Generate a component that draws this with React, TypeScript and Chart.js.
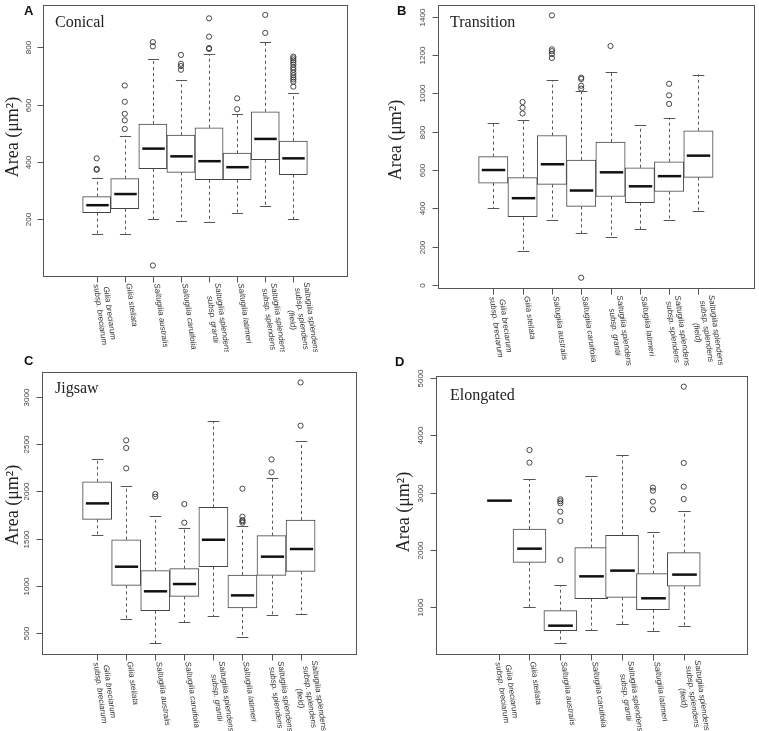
import React, { useEffect, useRef } from "react";
import { Chart, registerables } from "chart.js";

Chart.register(...registerables);

// ---------- categories ----------
const labels8: string[][] = [
  ["Gilia breciarum", "subsp. breciarum"],
  ["Gilia stellata"],
  ["Saltugilia australis"],
  ["Saltugilia caruifolia"],
  ["Saltugilia splendens", "subsp. grantii"],
  ["Saltugilia latimeri"],
  ["Saltugilia splendens", "subsp. splendens"],
  ["Saltugilia splendens", "subsp. splendens", "(field)"],
];
const labels7: string[][] = [
  ["Gilia breciarum", "subsp. breciarum"],
  ["Gilia stellata"],
  ["Saltugilia australis"],
  ["Saltugilia caruifolia"],
  ["Saltugilia splendens", "subsp. grantii"],
  ["Saltugilia latimeri"],
  ["Saltugilia splendens", "subsp. splendens", "(field)"],
];

// ---------- A: Conical ----------
const conicalLow = [148, 148, 199, 194, 189, 222, 244, 200];
const conicalQ1 = [222, 236, 376, 363, 337, 337, 407, 355];
const conicalMedian = [248, 287, 446, 419, 402, 381, 480, 412];
const conicalQ3 = [278, 341, 532, 493, 519, 430, 575, 472];
const conicalHigh = [344, 491, 758, 685, 777, 568, 818, 640];
const conicalOutliers = [
  [372, 375, 412],
  [515, 545, 568, 610, 667],
  [37, 804, 819],
  [722, 735, 743, 774],
  [795, 798, 838, 902],
  [584, 622],
  [851, 914],
  [663, 680, 688, 695, 703, 712, 722, 730, 740, 748, 755, 762, 768],
];
const conicalTicks = [200, 400, 600, 800];

// ---------- B: Transition ----------
const transitionLow = [402, 179, 337, 270, 248, 290, 337, 385];
const transitionQ1 = [532, 356, 525, 410, 462, 430, 488, 562];
const transitionMedian = [600, 453, 630, 493, 588, 515, 568, 675];
const transitionQ3 = [670, 560, 780, 652, 746, 612, 643, 805];
const transitionHigh = [848, 860, 1070, 1015, 1112, 833, 873, 1098];
const transitionOutliers = [
  [],
  [895, 925, 955],
  [1185, 1205, 1220, 1230, 1407],
  [38, 1025, 1040, 1075, 1082],
  [1247],
  [],
  [945, 990, 1050],
  [],
];
const transitionTicks = [0, 200, 400, 600, 800, 1000, 1200, 1400];

// ---------- C: Jigsaw ----------
const jigsawLow = [1539, 648, 394, 616, 680, 465, 694, 701];
const jigsawQ1 = [1704, 1007, 739, 891, 1204, 768, 1113, 1155];
const jigsawMedian = [1873, 1204, 944, 1021, 1489, 901, 1310, 1391];
const jigsawQ3 = [2102, 1489, 1162, 1183, 1831, 1116, 1532, 1697];
const jigsawHigh = [2341, 2056, 1736, 1616, 2739, 1634, 2137, 2528];
const jigsawOutliers = [
  [],
  [2243, 2458, 2539],
  [1944, 1972],
  [1669, 1866],
  [],
  [1669, 1685, 1697, 1732, 2028],
  [2201, 2338],
  [2694, 3151],
];
const jigsawTicks = [500, 1000, 1500, 2000, 2500, 3000];

// ---------- D: Elongated ----------
const elongatedLow = [2860, 1000, 364, 592, 703, 586, 668];
const elongatedQ1 = [2860, 1781, 586, 1146, 1169, 953, 1362];
const elongatedMedian = [2860, 2020, 673, 1536, 1636, 1152, 1566];
const elongatedQ3 = [2860, 2364, 936, 2038, 2254, 1583, 1950];
const elongatedHigh = [2860, 3233, 1385, 3297, 3653, 2306, 2685];
const elongatedOutliers = [
  [],
  [3525, 3746],
  [1822, 2504, 2668, 2813, 2850, 2883],
  [],
  [],
  [2708, 2843, 3035, 3088],
  [2889, 3105, 3519, 4854],
];
const elongatedTicks = [1000, 2000, 3000, 4000, 5000];

type Panel = {
  id: string;
  letter: string;
  title: string;
  cats: string[][];
  low: number[];
  q1: number[];
  med: number[];
  q3: number[];
  high: number[];
  out: number[][];
  ticks: number[];
  left: number;
  top: number;
  w: number;
  h: number;
  pad: { left: number; right: number; top: number; bottom: number };
  letterPos: [number, number];
  titlePos: [number, number];
  yTitlePos: [number, number];
};

const panels: Panel[] = [
  {
    id: "A", letter: "A", title: "Conical", cats: labels8,
    low: conicalLow, q1: conicalQ1, med: conicalMedian, q3: conicalQ3, high: conicalHigh, out: conicalOutliers, ticks: conicalTicks,
    left: 0, top: 0, w: 380, h: 352,
    pad: { left: 43.3, right: 33.3, top: 4.0, bottom: 76.5 },
    letterPos: [24, 15], titlePos: [55, 27], yTitlePos: [13, 137],
  },
  {
    id: "B", letter: "B", title: "Transition", cats: labels8,
    low: transitionLow, q1: transitionQ1, med: transitionMedian, q3: transitionQ3, high: transitionHigh, out: transitionOutliers, ticks: transitionTicks,
    left: 380, top: 0, w: 379, h: 368,
    pad: { left: 57.6, right: 4.6, top: 4.1, bottom: 79.8 },
    letterPos: [17, 15], titlePos: [70, 27], yTitlePos: [16, 140],
  },
  {
    id: "C", letter: "C", title: "Jigsaw", cats: labels8,
    low: jigsawLow, q1: jigsawQ1, med: jigsawMedian, q3: jigsawQ3, high: jigsawHigh, out: jigsawOutliers, ticks: jigsawTicks,
    left: 0, top: 350, w: 380, h: 381,
    pad: { left: 41.9, right: 24.2, top: 22.0, bottom: 77.2 },
    letterPos: [24, 15], titlePos: [55, 43], yTitlePos: [13, 155],
  },
  {
    id: "D", letter: "D", title: "Elongated", cats: labels7,
    low: elongatedLow, q1: elongatedQ1, med: elongatedMedian, q3: elongatedQ3, high: elongatedHigh, out: elongatedOutliers, ticks: elongatedTicks,
    left: 380, top: 350, w: 379, h: 381,
    pad: { left: 55.7, right: 12.3, top: 26.4, bottom: 77.4 },
    letterPos: [15, 16], titlePos: [70, 50], yTitlePos: [24, 162],
  },
];

function makeConfig(p: Panel): any {
  const n = p.cats.length;
  const xmin = 0.5 - 0.04 * n;
  const xmax = n + 0.5 + 0.04 * n;
  const all: number[] = [...p.low, ...p.high, ...p.out.flat()];
  const dmin = Math.min(...all);
  const dmax = Math.max(...all);
  const ext = (dmax - dmin) * 0.04;
  const ymin = dmin - ext;
  const ymax = dmax + ext;
  const areaW = p.w - p.pad.left - p.pad.right;
  const barThickness = (0.8 * areaW) / (xmax - xmin);

  const boxData = p.cats.map((_, i) => ({ x: i + 1, y: [p.q1[i], p.q3[i]] }));
  const outData: { x: number; y: number }[] = [];
  p.out.forEach((arr, i) => arr.forEach((v) => outData.push({ x: i + 1, y: v })));

  const boxPlugin = {
    id: "boxExtras" + p.id,
    afterDatasetsDraw(chart: any) {
      const { ctx, chartArea: ca } = chart;
      const xs = chart.scales.x;
      const ys = chart.scales.y;
      ctx.save();
      // whiskers, caps, medians
      for (let i = 0; i < n; i++) {
        const cx = Math.round(xs.getPixelForValue(i + 1)) + 0.5;
        const capHalf = xs.getPixelForValue(i + 1.2) - xs.getPixelForValue(i + 1);
        const boxHalf = xs.getPixelForValue(i + 1.4) - xs.getPixelForValue(i + 1);
        const yLow = ys.getPixelForValue(p.low[i]);
        const yQ1 = ys.getPixelForValue(p.q1[i]);
        const yQ3 = ys.getPixelForValue(p.q3[i]);
        const yHigh = ys.getPixelForValue(p.high[i]);
        ctx.strokeStyle = "#555";
        ctx.lineWidth = 1;
        if (p.high[i] > p.q3[i]) {
          ctx.setLineDash([3, 3]);
          ctx.beginPath();
          ctx.moveTo(cx, yQ3);
          ctx.lineTo(cx, yHigh);
          ctx.stroke();
          ctx.setLineDash([]);
          ctx.beginPath();
          ctx.moveTo(cx - capHalf, Math.round(yHigh) + 0.5);
          ctx.lineTo(cx + capHalf, Math.round(yHigh) + 0.5);
          ctx.stroke();
        }
        if (p.low[i] < p.q1[i]) {
          ctx.setLineDash([3, 3]);
          ctx.beginPath();
          ctx.moveTo(cx, yQ1);
          ctx.lineTo(cx, yLow);
          ctx.stroke();
          ctx.setLineDash([]);
          ctx.beginPath();
          ctx.moveTo(cx - capHalf, Math.round(yLow) + 0.5);
          ctx.lineTo(cx + capHalf, Math.round(yLow) + 0.5);
          ctx.stroke();
        }
        // median
        const yMed = ys.getPixelForValue(p.med[i]);
        ctx.strokeStyle = "#111";
        ctx.lineWidth = 2.5;
        ctx.beginPath();
        ctx.moveTo(cx - boxHalf, yMed);
        ctx.lineTo(cx + boxHalf, yMed);
        ctx.stroke();
      }

      // frame
      ctx.strokeStyle = "#555";
      ctx.lineWidth = 1;
      ctx.strokeRect(
        Math.round(ca.left) + 0.5,
        Math.round(ca.top) + 0.5,
        Math.round(ca.right) - Math.round(ca.left),
        Math.round(ca.bottom) - Math.round(ca.top)
      );

      // y ticks + labels
      ctx.font = '8px "Liberation Sans", Arial, sans-serif';
      ctx.fillStyle = "#444";
      ctx.textAlign = "center";
      ctx.textBaseline = "middle";
      const lx = Math.round(ca.left) + 0.5;
      for (const v of p.ticks) {
        const py = Math.round(ys.getPixelForValue(v)) + 0.5;
        ctx.beginPath();
        ctx.moveTo(lx - 6, py);
        ctx.lineTo(lx, py);
        ctx.stroke();
        ctx.save();
        ctx.translate(ca.left - 15, py);
        ctx.rotate(-Math.PI / 2);
        ctx.fillText(String(v), 0, 0);
        ctx.restore();
      }

      // x ticks + labels
      const by = Math.round(ca.bottom) + 0.5;
      const theta = (82 * Math.PI) / 180;
      ctx.font = 'italic 8px "Liberation Sans", Arial, sans-serif';
      ctx.fillStyle = "#333";
      for (let i = 0; i < n; i++) {
        const cx = Math.round(xs.getPixelForValue(i + 1)) + 0.5;
        ctx.beginPath();
        ctx.moveTo(cx, by);
        ctx.lineTo(cx, by + 6);
        ctx.stroke();
        const lines = p.cats[i];
        const W = Math.max(...lines.map((l) => ctx.measureText(l).width));
        ctx.save();
        ctx.translate(cx + 3, ca.bottom + 8);
        ctx.rotate(theta);
        ctx.textAlign = "center";
        ctx.textBaseline = "middle";
        lines.forEach((l, k) => {
          const off = (k - (lines.length - 1) / 2) * 9.5;
          ctx.fillText(l, W / 2, off);
        });
        ctx.restore();
      }

      // panel letter
      ctx.fillStyle = "#111";
      ctx.textAlign = "left";
      ctx.textBaseline = "alphabetic";
      ctx.font = 'bold 13px "Liberation Sans", Arial, sans-serif';
      ctx.fillText(p.letter, p.letterPos[0], p.letterPos[1]);

      // panel title
      ctx.font = '16px "Liberation Serif", "Times New Roman", serif';
      ctx.fillStyle = "#222";
      ctx.fillText(p.title, p.titlePos[0], p.titlePos[1]);

      // y axis title
      ctx.save();
      ctx.translate(p.yTitlePos[0], p.yTitlePos[1]);
      ctx.rotate(-Math.PI / 2);
      ctx.textAlign = "center";
      ctx.textBaseline = "middle";
      ctx.font = '18px "Liberation Serif", "Times New Roman", serif';
      ctx.fillText("Area (\u03bcm\u00b2)", 0, 0);
      ctx.restore();

      ctx.restore();
    },
  };

  return {
    type: "bar",
    data: {
      datasets: [
        {
          type: "bar",
          data: boxData,
          backgroundColor: "rgba(255,255,255,1)",
          borderColor: "#444",
          borderWidth: 1,
          borderSkipped: false,
          barThickness,
          grouped: false,
          order: 2,
        },
        {
          type: "scatter",
          data: outData,
          pointStyle: "circle",
          pointRadius: 2.6,
          pointBackgroundColor: "rgba(0,0,0,0)",
          pointBorderColor: "#333",
          pointBorderWidth: 0.9,
          showLine: false,
          order: 1,
        },
      ],
    },
    options: {
      responsive: false,
      animation: false,
      events: [],
      layout: { padding: p.pad },
      plugins: { legend: { display: false }, tooltip: { enabled: false } },
      scales: {
        x: { type: "linear", min: xmin, max: xmax, display: false },
        y: { type: "linear", min: ymin, max: ymax, display: false },
      },
    },
    plugins: [boxPlugin],
  };
}

function PanelChart({ p }: { p: Panel }) {
  const ref = useRef<HTMLCanvasElement>(null);
  useEffect(() => {
    if (!ref.current) return;
    const chart = new Chart(ref.current, makeConfig(p));
    return () => chart.destroy();
  }, [p]);
  return (
    <canvas
      ref={ref}
      width={p.w}
      height={p.h}
      style={{ position: "absolute", left: p.left, top: p.top, width: p.w, height: p.h }}
    />
  );
}

export default function App() {
  return (
    <div style={{ position: "absolute", left: 0, top: 0, width: 759, height: 731, background: "#fff", overflow: "hidden" }}>
      {panels.map((p) => (
        <PanelChart key={p.id} p={p} />
      ))}
    </div>
  );
}
